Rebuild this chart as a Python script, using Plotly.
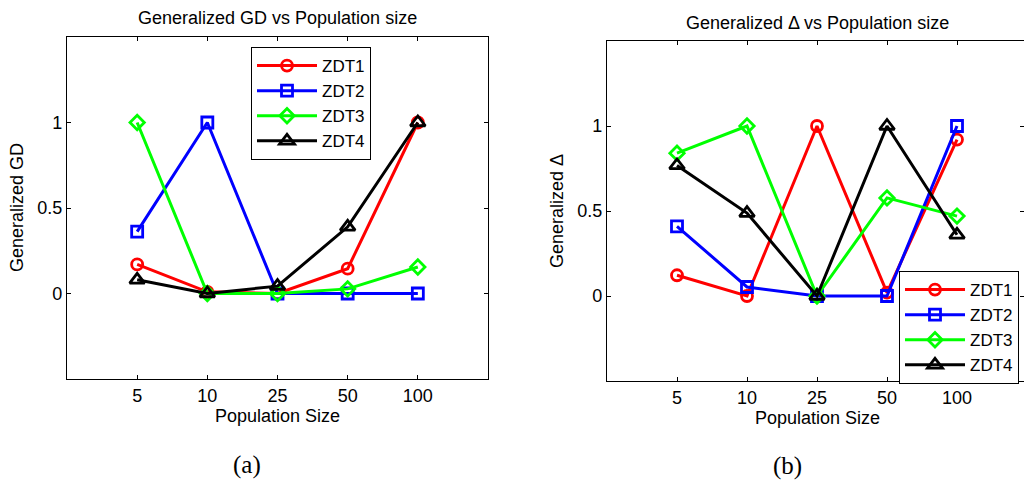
import plotly.graph_objects as go

pop_labels = ["5", "10", "25", "50", "100"]
pos = [1, 2, 3, 4, 5]
series = ["ZDT1", "ZDT2", "ZDT3", "ZDT4"]

gd_zdt1 = [0.17, 0.01, 0.0, 0.145, 1.0]
gd_zdt2 = [0.362, 1.0, 0.0, 0.0, 0.0]
gd_zdt3 = [1.0, 0.0, 0.0, 0.027, 0.155]
gd_zdt4 = [0.08, 0.0, 0.043, 0.39, 1.0]

dl_zdt1 = [0.122, 0.0, 1.0, 0.02, 0.92]
dl_zdt2 = [0.41, 0.053, 0.0, 0.0, 1.0]
dl_zdt3 = [0.84, 1.0, 0.0, 0.577, 0.47]
dl_zdt4 = [0.768, 0.488, 0.0, 1.0, 0.36]

colors = ["#ff0000", "#0000ff", "#00ff00", "#000000"]
symbols = ["circle-open", "square-open", "diamond-open", "triangle-up-open"]
sizes = [11, 11, 11, 13]

W, H = 1024, 485
FONT = "Liberation Sans, Arial, sans-serif"
FS = 18

fig = go.Figure()

gd = [gd_zdt1, gd_zdt2, gd_zdt3, gd_zdt4]
dl = [dl_zdt1, dl_zdt2, dl_zdt3, dl_zdt4]

for i, name in enumerate(series):
    fig.add_trace(go.Scatter(
        x=pos, y=gd[i], name=name, mode="lines+markers",
        line=dict(color=colors[i], width=3),
        marker=dict(symbol=symbols[i], size=sizes[i], color=colors[i],
                    line=dict(color=colors[i], width=2.8)),
        xaxis="x", yaxis="y", legend="legend"))
for i, name in enumerate(series):
    fig.add_trace(go.Scatter(
        x=pos, y=dl[i], name=name, mode="lines+markers",
        line=dict(color=colors[i], width=3),
        marker=dict(symbol=symbols[i], size=sizes[i], color=colors[i],
                    line=dict(color=colors[i], width=2.8)),
        xaxis="x2", yaxis="y2", legend="legend2"))

def px_x(p):
    return p / W

def px_y(p):
    return 1 - p / H

axis_common = dict(
    showline=True, linecolor="black", linewidth=1.2, mirror="ticks",
    ticks="inside", ticklen=4, tickcolor="black", tickwidth=1,
    showgrid=False, zeroline=False,
    tickfont=dict(family=FONT, size=FS, color="black"),
)

fig.update_layout(
    width=W, height=H,
    margin=dict(l=0, r=0, t=0, b=0),
    paper_bgcolor="white", plot_bgcolor="white",
    font=dict(family=FONT, color="black"),
    xaxis=dict(domain=[px_x(67), px_x(488)], range=[0, 6],
               tickvals=pos, ticktext=pop_labels, anchor="y", **axis_common),
    yaxis=dict(domain=[px_y(379), px_y(37)], range=[-0.5, 1.5],
               tickvals=[0, 0.5, 1], ticktext=["0", "0.5", "1"], anchor="x", **axis_common),
    xaxis2=dict(domain=[px_x(607), 1.0], range=[0, (1024 - 607) / 70.0],
                tickvals=pos, ticktext=pop_labels, anchor="y2", **axis_common),
    yaxis2=dict(domain=[px_y(381), px_y(41)], range=[-0.5, 1.5],
                tickvals=[0, 0.5, 1], ticktext=["0", "0.5", "1"], anchor="x2", **axis_common),
    legend=dict(x=px_x(251), y=px_y(47), xanchor="left", yanchor="top",
                bgcolor="white", bordercolor="black", borderwidth=1,
                font=dict(family=FONT, size=17, color="black"),
                itemwidth=60, tracegroupgap=0),
    legend2=dict(x=px_x(899), y=px_y(271), xanchor="left", yanchor="top",
                 bgcolor="white", bordercolor="black", borderwidth=1,
                 font=dict(family=FONT, size=17, color="black"),
                 itemwidth=60, tracegroupgap=0),
    showlegend=True,
)

annots = [
    dict(text="Generalized GD vs Population size", x=px_x(277.5), y=px_y(18)),
    dict(text="Generalized Δ vs Population size", x=px_x(817), y=px_y(23)),
    dict(text="Population Size", x=px_x(277.5), y=px_y(416)),
    dict(text="Population Size", x=px_x(817), y=px_y(418)),
]
for a in annots:
    fig.add_annotation(text=a["text"], x=a["x"], y=a["y"], xref="paper", yref="paper",
                       xanchor="center", yanchor="middle", showarrow=False,
                       font=dict(family=FONT, size=FS, color="black"))

fig.add_annotation(text="Generalized GD", x=px_x(17), y=px_y(208), xref="paper", yref="paper",
                   textangle=-90, xanchor="center", yanchor="middle", showarrow=False,
                   font=dict(family=FONT, size=FS, color="black"))
fig.add_annotation(text="Generalized Δ", x=px_x(557), y=px_y(211), xref="paper", yref="paper",
                   textangle=-90, xanchor="center", yanchor="middle", showarrow=False,
                   font=dict(family=FONT, size=FS, color="black"))

fig.add_annotation(text="(a)", x=px_x(247), y=px_y(465), xref="paper", yref="paper",
                   xanchor="center", yanchor="middle", showarrow=False,
                   font=dict(family="Liberation Serif, serif", size=25, color="black"))
fig.add_annotation(text="(b)", x=px_x(787), y=px_y(466), xref="paper", yref="paper",
                   xanchor="center", yanchor="middle", showarrow=False,
                   font=dict(family="Liberation Serif, serif", size=25, color="black"))

fig.write_html("out.html")
